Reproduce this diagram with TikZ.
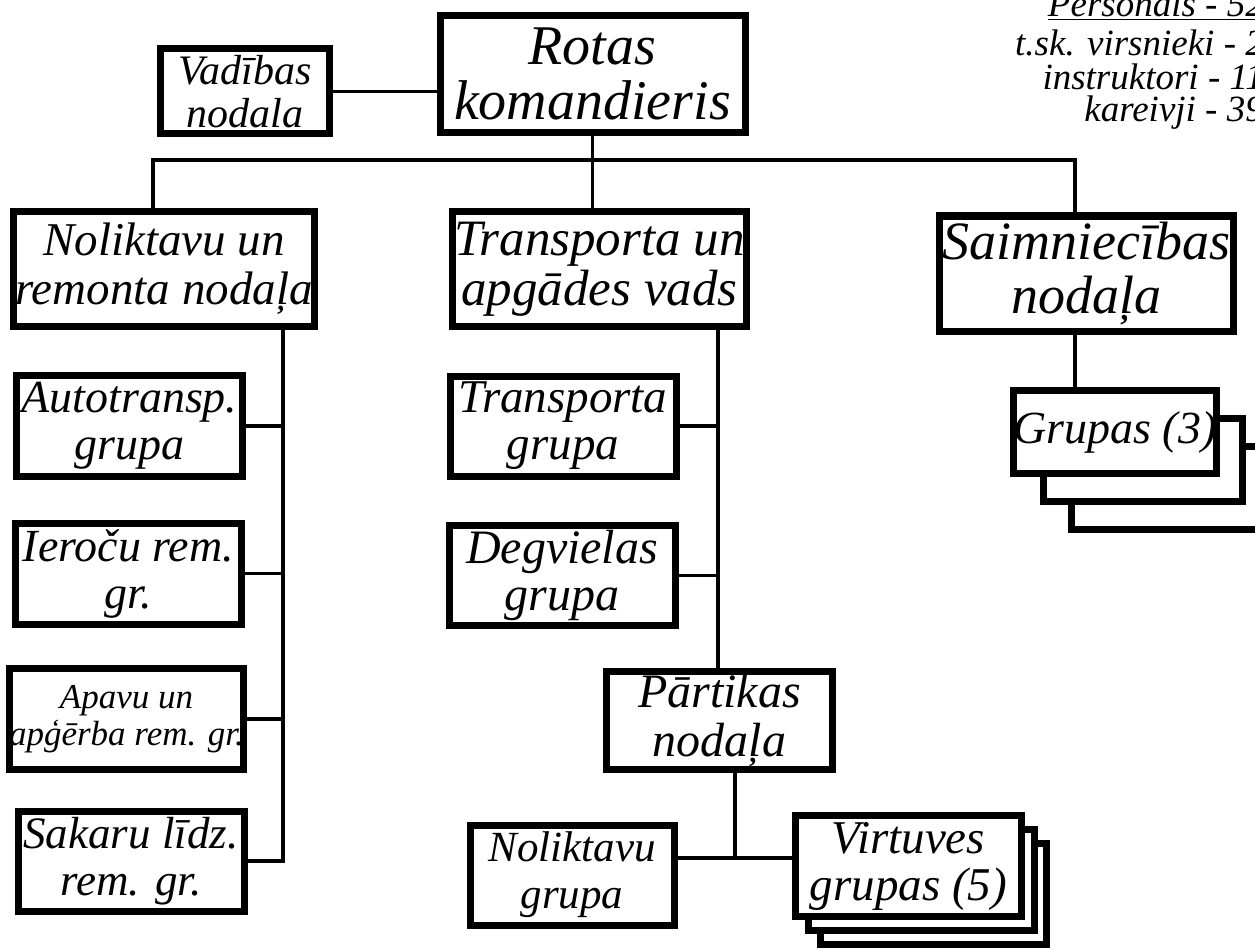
\documentclass[tikz,border=0pt]{standalone}
\usepackage{fontspec}
\setmainfont{Liberation Serif}
\begin{document}
\begin{tikzpicture}[x=1pt,y=-1pt,
  box/.style={draw, line width=7pt, fill=white, inner sep=0pt, align=center},
  fs/.style 2 args={font=\itshape\fontsize{#1}{#2}\selectfont},
  sz/.style 2 args={minimum width=#1, minimum height=#2},
  conn/.style={line width=3.5pt},
  info/.style={anchor=base east, inner sep=0pt, fs={37}{40}},
]
\useasboundingbox (0,0) rectangle (1255,952);
\clip (0,0) rectangle (1255,952);

% staff summary (cut by the right edge)
\node[info] (pers) at (1264,17) {\underline{Personāls - 52}};
\node[info] (virs) at (1264,56) {t.sk. virsnieki - 2};
\node[info] (instr) at (1264,90) {instruktori - 11};
\node[info] (kar) at (1264,122) {kareivji - 39};

% top level
\node[box, sz={169pt}{85pt}, fs={42}{43}] (vad) at (245,91.5) {Vadības\\nodala};
\node[box, sz={305pt}{117pt}, fs={56}{55}] (rot) at (592.5,74) {Rotas\\komandieris};

% second level
\node[box, sz={301pt}{115pt}, fs={47}{49}] (nol) at (164,269) {Noliktavu un\\remonta nodaļa};
\node[box, sz={294pt}{115pt}, fs={51}{50}] (tra) at (599.5,269) {Transporta un\\apgādes vads};
\node[box, sz={294pt}{115pt}, fs={54}{54}] (sai) at (1086.5,273.5) {Saimniecības\\nodaļa};

% left column
\node[box, sz={226pt}{101pt}, fs={46}{47}] (aut) at (129.5,426) {Autotransp.\\grupa};
\node[box, sz={226pt}{101pt}, fs={46}{47}] (ier) at (128.5,573.5) {Ieroču rem.\\gr.};
\node[box, sz={226pt}{101pt}, fs={35}{37}] (apa) at (126.5,719) {Apavu un\\apģērba rem. gr.};
\node[box, sz={226pt}{100pt}, fs={45}{47}] (sak) at (131,861) {Sakaru līdz.\\rem. gr.};

% middle column
\node[box, sz={226pt}{100pt}, fs={47}{47}] (trg) at (563,426) {Transporta\\grupa};
\node[box, sz={226pt}{100pt}, fs={48}{47}] (deg) at (562,575.5) {Degvielas\\grupa};
\node[box, sz={226pt}{98pt}, fs={48}{49}] (par) at (719.5,720) {Pārtikas\\nodaļa};
\node[box, sz={204pt}{100pt}, fs={43}{47}] (nlg) at (572,875) {Noliktavu\\grupa};

% kitchen groups stack
\node[box, sz={226pt}{101pt}] (vir3) at (933.5,894) {};
\node[box, sz={226pt}{101pt}] (vir2) at (921,880) {};
\node[box, sz={226pt}{101pt}, fs={47}{47}] (vir) at (908.5,866) {Virtuves\\grupas (5)};

% groups stack
\node[box, sz={199pt}{83pt}] (gru3) at (1171,488) {};
\node[box, sz={199pt}{83pt}] (gru2) at (1143,460) {};
\node[box, sz={199pt}{83pt}, fs={46}{46}] (gru) at (1115,432) {Grupas (3)};

% connectors
\coordinate (bl) at (153,160);
\coordinate (br) at (1075,160);
\coordinate (lc) at (283,330);
\coordinate (mc) at (718,330);
\coordinate (pj) at (735,858);

\draw[conn] (vad.east) -- (vad.east -| rot.west);
\draw[conn] (rot.south) -- (tra.north -| rot.south);
\draw[conn] (nol.north -| bl) -- (bl) -- (br) -- (sai.north -| br);
\draw[conn] (nol.south -| lc) |- (sak.east);
\draw[conn] (aut.east) -- (aut.east -| lc);
\draw[conn] (ier.east) -- (ier.east -| lc);
\draw[conn] (apa.east) -- (apa.east -| lc);
\draw[conn] (tra.south -| mc) -- (par.north -| mc);
\draw[conn] (trg.east) -- (trg.east -| mc);
\draw[conn] (deg.east) -- (deg.east -| mc);
\draw[conn] (par.south -| pj) -- (pj);
\draw[conn] (nlg.east |- pj) -- (vir.west |- pj);
\draw[conn] (sai.south -| br) -- (gru.north -| br);
\end{tikzpicture}
\end{document}
